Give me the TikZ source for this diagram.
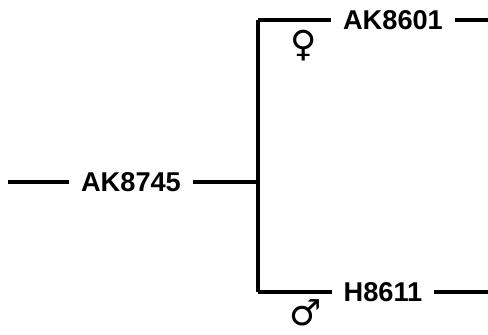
\documentclass[tikz,border=0pt]{standalone}
\usepackage{fontspec}
\setmainfont{Liberation Sans}
\newfontfamily\symfont{DejaVu Sans}
\usepackage{tikz}

\begin{document}
\begin{tikzpicture}[x=0.5pt, y=-0.5pt, line width=1.7pt,
    lbl/.style={inner xsep=5pt, inner ysep=0pt, font=\bfseries\fontsize{13.6}{16}\selectfont},
    sym/.style={inner sep=0pt, font=\symfont\bfseries\fontsize{18}{20}\selectfont}]
    \useasboundingbox (0,0) rectangle (488,335);
    \coordinate (root) at (8,182);
    \node[lbl] (ak8745) at (131,182) {AK8745};
    \coordinate (jn) at (258,182);
    \coordinate (top) at (258,20);
    \coordinate (bot) at (258,292);
    \node[lbl] (ak8601) at (393,20) {AK8601};
    \coordinate (topend) at (488,20);
    \node[lbl] (h8611) at (383,292) {H8611};
    \coordinate (botend) at (488,292);
    \node[sym] (female) at (304,46) {♀};
    \node[sym] (male) at (306,313) {♂};
    \draw (root) -- (ak8745);
    \draw (ak8745) -- (jn);
    \draw (top) -- (bot);
    \draw (top) -- (ak8601);
    \draw (ak8601) -- (topend);
    \draw (bot) -- (h8611);
    \draw (h8611) -- (botend);
\end{tikzpicture}
\end{document}
